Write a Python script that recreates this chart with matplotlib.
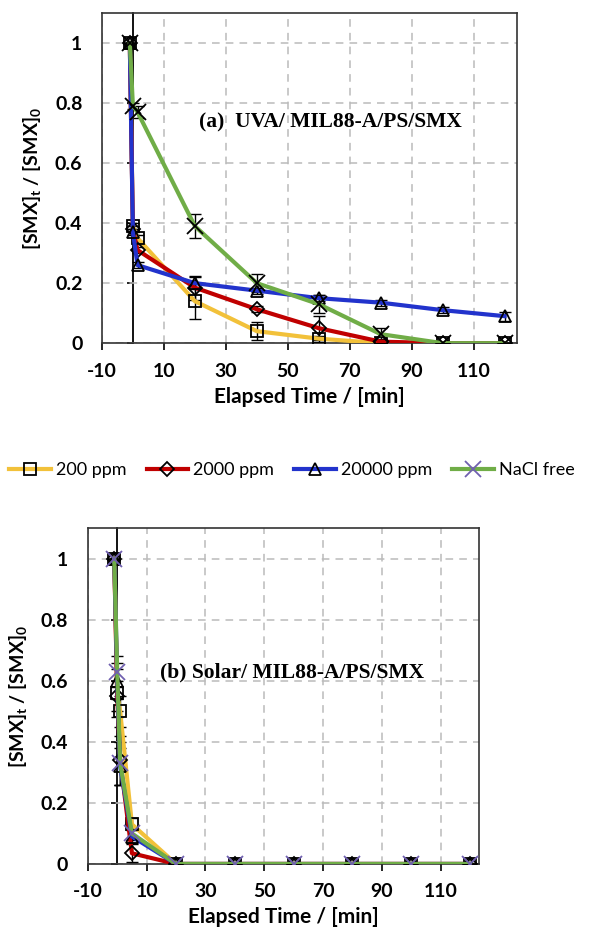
import matplotlib
matplotlib.use("Agg")
import matplotlib.pyplot as plt

# panel (a) UVA
t_a = [-1, 0, 1.5, 20, 40, 60, 80, 100, 120]
a_200 = [1.0, 0.39, 0.35, 0.14, 0.04, 0.015, 0.0, 0.0, 0.0]
a_2000 = [1.0, 0.38, 0.31, 0.185, 0.113, 0.05, 0.005, 0.0, 0.0]
a_20000 = [1.0, 0.37, 0.26, 0.20, 0.175, 0.15, 0.135, 0.11, 0.09]
a_free = [1.0, 0.79, 0.77, 0.39, 0.20, 0.13, 0.03, 0.0, 0.0]
a_err_200 = [0, 0.01, 0.01, 0.06, 0.03, 0.01, 0, 0, 0]
a_err_2000 = [0, 0.01, 0.01, 0.04, 0.01, 0.04, 0.01, 0, 0]
a_err_20000 = [0, 0.01, 0.01, 0.02, 0.01, 0.01, 0.01, 0.01, 0.015]
a_err_free = [0, 0.01, 0.02, 0.04, 0.03, 0.03, 0.02, 0, 0]

# panel (b) Solar
t_b = [-1, 0, 1, 5, 20, 40, 60, 80, 100, 120]
b_200 = [1.0, 0.56, 0.50, 0.13, 0, 0, 0, 0, 0, 0]
b_2000 = [1.0, 0.55, 0.34, 0.035, 0, 0, 0, 0, 0, 0]
b_20000 = [1.0, 0.60, 0.32, 0.09, 0, 0, 0, 0, 0, 0]
b_free = [1.0, 0.63, 0.33, 0.10, 0, 0, 0, 0, 0, 0]
b_err_200 = [0, 0.08, 0.05, 0.02, 0, 0, 0, 0, 0, 0]
b_err_2000 = [0, 0.05, 0.08, 0.03, 0, 0, 0, 0, 0, 0]
b_err_20000 = [0, 0.06, 0.06, 0.02, 0, 0, 0, 0, 0, 0]
b_err_free = [0, 0.05, 0.07, 0.02, 0, 0, 0, 0, 0, 0]

labels = ["200 ppm", "2000 ppm", "20000 ppm", "NaCl free"]
colors = ["#F2C13A", "#C00000", "#2233CC", "#70AD47"]
markers = ["s", "D", "^", "x"]
msizes = [9, 7, 9, 11]

x_ticks = [-10, 10, 30, 50, 70, 90, 110]
y_ticks = [0, 0.2, 0.4, 0.6, 0.8, 1.0]
y_ticklabels = ["0", "0.2", "0.4", "0.6", "0.8", "1"]

plt.rcParams['font.family'] = ['Lato', 'DejaVu Sans']
plt.rcParams['mathtext.fontset'] = 'custom'
plt.rcParams['mathtext.bf'] = 'Lato:bold'
plt.rcParams['mathtext.rm'] = 'Lato:bold'
plt.rcParams['axes.unicode_minus'] = False

fig = plt.figure(figsize=(6.14, 9.3), dpi=100)
ax_a = fig.add_axes([0.166, 0.631, 0.676, 0.355])
ax_b = fig.add_axes([0.143, 0.071, 0.637, 0.361])


def draw_panel(ax, t, series, errs, x_color, xmax, title, tx, ty):
    for ys, es, c, m, ms, lab in zip(series, errs, colors, markers, msizes, labels):
        ax.errorbar(t, ys, yerr=es, fmt='none', ecolor='black', elinewidth=1,
                    capsize=4, capthick=1, zorder=3)
        mec = x_color if m == "x" else "black"
        ax.plot(t, ys, color=c, lw=3, marker=m, ms=ms, mfc='none', mec=mec,
                mew=1.3, label=lab, zorder=4)
    ax.set_xlim(-10, xmax)
    ax.set_ylim(0, 1.1)
    ax.set_xticks(x_ticks)
    ax.set_yticks(y_ticks)
    ax.set_yticklabels(y_ticklabels)
    ax.grid(True, color='#BBBBBB', linestyle=(0, (5, 4)), lw=1.1)
    ax.set_axisbelow(True)
    for s in ax.spines.values():
        s.set_color('#333333')
        s.set_linewidth(1.2)
    ax.tick_params(axis='x', direction='out', length=5, width=1.2,
                   labelsize=14, pad=9)
    ax.tick_params(axis='y', length=0, labelsize=14, pad=14)
    for lbl in ax.get_xticklabels() + ax.get_yticklabels():
        lbl.set_fontweight('bold')
    # y axis crossing at x = 0
    sec = ax.secondary_yaxis(10 / (xmax + 10))
    sec.set_yticks(y_ticks)
    sec.tick_params(axis='y', direction='out', length=4, width=1.2,
                    labelleft=False)
    sec.spines['left'].set_linewidth(1.3)
    sec.spines['left'].set_color('black')
    ax.set_xlabel("Elapsed Time / [min]", fontsize=15, fontweight='bold',
                  labelpad=5)
    ax.set_ylabel("[SMX]$_\\mathbf{t}$ / [SMX]$_\\mathbf{0}$",
                  fontsize=14, fontweight='bold', labelpad=8)
    ax.text(tx, ty, title, fontsize=15.5, fontweight='bold',
            family='Liberation Serif', va='center', ha='left', zorder=5)


draw_panel(ax_a, t_a, [a_200, a_2000, a_20000, a_free],
           [a_err_200, a_err_2000, a_err_20000, a_err_free],
           'black', 124, "(a)  UVA/ MIL88-A/PS/SMX", 21.5, 0.735)
draw_panel(ax_b, t_b, [b_200, b_2000, b_20000, b_free],
           [b_err_200, b_err_2000, b_err_20000, b_err_free],
           '#7060B0', 123, "(b) Solar/ MIL88-A/PS/SMX", 14.5, 0.626)

handles, labs = ax_b.get_legend_handles_labels()
fig.legend(handles, labs, loc='center left', bbox_to_anchor=(0.015, 1 - 470 / 930),
           ncol=4, frameon=False, fontsize=13, handlelength=2.3,
           handletextpad=0.3, columnspacing=1.1, borderpad=0, borderaxespad=0)

fig.savefig("out.png", dpi=100)
